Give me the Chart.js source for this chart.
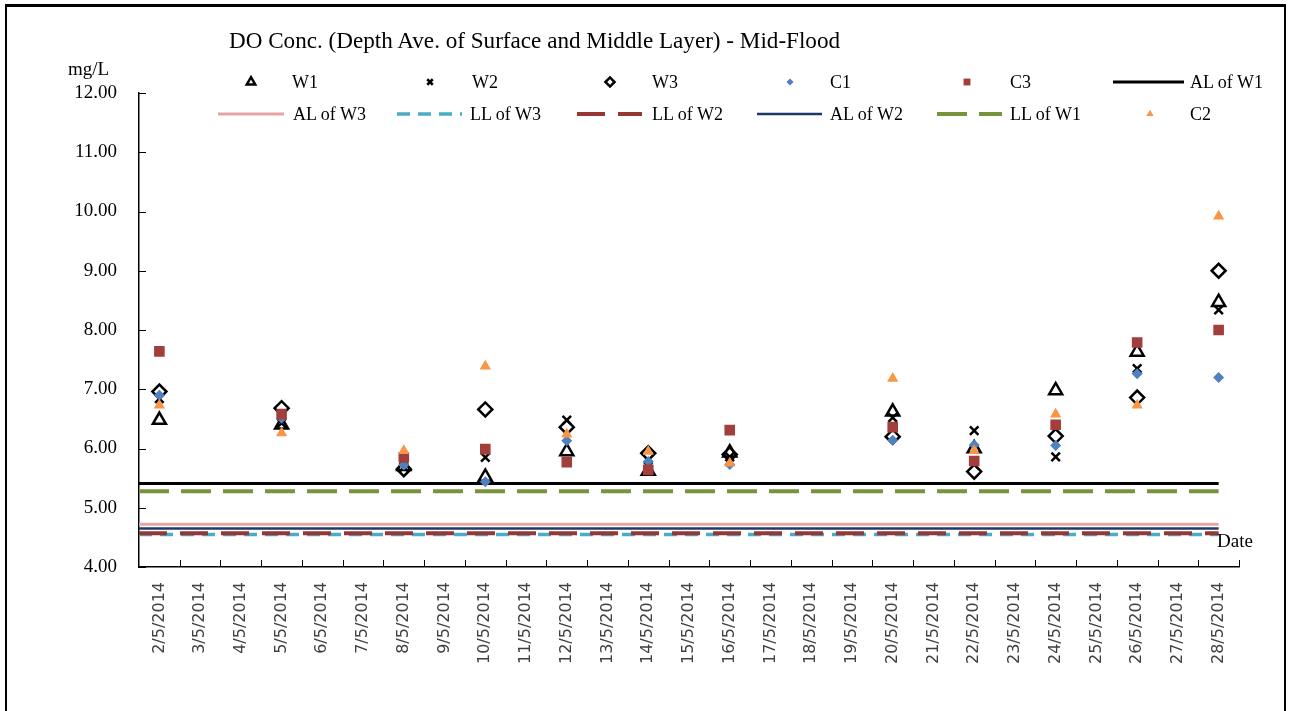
<!DOCTYPE html>
<html>
<head>
<meta charset="utf-8">
<script src="https://cdn.jsdelivr.net/npm/chart.js@4/dist/chart.umd.min.js"></script>
<style>
  html, body { margin: 0; padding: 0; background: #fff; }
  #wrap { position: relative; width: 1290px; height: 711px; overflow: hidden; background: #fff; }
  #c { position: absolute; left: 0; top: 0; }
  .frame { position: absolute; left: 5px; top: 4px; width: 1277px; height: 730px;
           border-top: 3px solid #000; border-left: 2px solid #000; border-right: 2px solid #000; }
  .txt { position: absolute; font-family: "Liberation Serif", "Times New Roman", serif; color: #000;
         white-space: nowrap; line-height: 1; }
  .lg { position: absolute; font-family: "Liberation Serif", "Times New Roman", serif; font-size: 18px;
        color: #000; white-space: nowrap; line-height: 1; }
  .sw { position: absolute; }
</style>
</head>
<body>
<div id="wrap">
  <canvas id="c" width="1290" height="711"></canvas>
  <div class="frame"></div>
  <div class="txt" id="title" style="left:229px;top:28px;font-size:24px;transform-origin:0 0;">DO Conc. (Depth Ave. of Surface and Middle Layer) - Mid-Flood</div>
  <div class="txt" style="left:68px;top:59px;font-size:19px;">mg/L</div>
  <div class="txt" style="left:1217px;top:531px;font-size:19px;">Date</div>
  <div id="legend"></div>
</div>
<script>
// Every calendar day on the category axis
const dates = [
  '2/5/2014', '3/5/2014', '4/5/2014', '5/5/2014', '6/5/2014', '7/5/2014', '8/5/2014',
  '9/5/2014', '10/5/2014', '11/5/2014', '12/5/2014', '13/5/2014', '14/5/2014', '15/5/2014',
  '16/5/2014', '17/5/2014', '18/5/2014', '19/5/2014', '20/5/2014', '21/5/2014', '22/5/2014',
  '23/5/2014', '24/5/2014', '25/5/2014', '26/5/2014', '27/5/2014', '28/5/2014'
];

// Days on which samples were taken
const sampleDates = [
  '2/5/2014', '5/5/2014', '8/5/2014', '10/5/2014', '12/5/2014', '14/5/2014',
  '16/5/2014', '20/5/2014', '22/5/2014', '24/5/2014', '26/5/2014', '28/5/2014'
];

// DO (mg/L), depth average of surface and middle layer, mid-flood
const W1 = [6.48, 6.40, 5.70, 5.52, 5.95, 5.62, 5.93, 6.62, 6.00, 6.98, 7.63, 8.47];
const W2 = [6.84, 6.43, 5.68, 5.85, 6.48, 5.70, 5.86, 6.52, 6.30, 5.86, 7.35, 8.34];
const W3 = [6.96, 6.68, 5.65, 6.66, 6.36, 5.92, 5.90, 6.20, 5.61, 6.21, 6.86, 9.00];
const C1 = [6.90, 6.51, 5.72, 5.44, 6.13, 5.78, 5.73, 6.14, 6.06, 6.05, 7.26, 7.20];
const C3 = [7.64, 6.58, 5.85, 5.99, 5.77, 5.64, 6.31, 6.36, 5.79, 6.40, 7.79, 8.00];
const C2 = [6.73, 6.26, 5.96, 7.39, 6.24, 5.95, 5.75, 7.18, 5.96, 6.58, 6.73, 9.92];

// Action (AL) and limit (LL) levels
const AL_W1 = 5.41;
const LL_W1 = 5.28;
const AL_W3 = 4.72;
const AL_W2 = 4.65;
const LL_W2 = 4.57;
const LL_W3 = 4.55;

// Y axis range
const yMin = 4, yMax = 12, yStep = 1;

// Spread a station's samples over the full date list
function onDates(values) {
  return dates.map(d => {
    const i = sampleDates.indexOf(d);
    return i >= 0 ? values[i] : null;
  });
}

// Horizontal level from the value axis origin to the last date
function level(v) {
  return [{ x: -0.5, y: v }, { x: dates.length - 1, y: v }];
}

function markerSet(label, values, style, opts) {
  return Object.assign({
    label,
    data: onDates(values),
    xAxisID: 'x',
    showLine: false,
    pointStyle: style,
    pointRadius: 6,
    pointHoverRadius: 6,
    pointBorderWidth: 2.5,
    pointBackgroundColor: 'rgba(0,0,0,0)',
    pointBorderColor: '#000',
    borderColor: '#000',
    backgroundColor: 'rgba(0,0,0,0)'
  }, opts);
}

function levelSet(label, v, color, width, dash, order) {
  return {
    label,
    data: level(v),
    xAxisID: 'xl',
    showLine: true,
    borderColor: color,
    backgroundColor: color,
    borderWidth: width,
    borderDash: dash,
    pointRadius: 0,
    pointHoverRadius: 0,
    fill: false,
    order
  };
}

const datasets = [
  markerSet('W1', W1, 'triangle', { pointRadius: 7.5, order: 5 }),
  markerSet('W2', W2, 'crossRot', { pointRadius: 6, order: 4 }),
  markerSet('W3', W3, 'rectRot', { pointRadius: 7, order: 3 }),
  markerSet('C1', C1, 'rectRot', { pointRadius: 5.5, pointBorderWidth: 0, pointBackgroundColor: '#4F81BD', pointBorderColor: '#4F81BD', backgroundColor: '#4F81BD', borderColor: '#4F81BD', order: 2 }),
  markerSet('C3', C3, 'rect', { pointRadius: 7.5, pointBorderWidth: 0, pointBackgroundColor: '#A23E3C', pointBorderColor: '#A23E3C', backgroundColor: '#A23E3C', borderColor: '#A23E3C', order: 1 }),
  levelSet('AL of W1', AL_W1, '#000000', 3, [], 20),
  levelSet('AL of W3', AL_W3, '#E3A6A5', 3, [], 19),
  levelSet('LL of W3', LL_W3, '#4BACC6', 3.5, [13, 8], 18),
  levelSet('LL of W2', LL_W2, '#953735', 4, [28, 13], 17),
  levelSet('AL of W2', AL_W2, '#1F3A64', 2.5, [], 16),
  levelSet('LL of W1', LL_W1, '#77933C', 4, [30, 12], 15),
  markerSet('C2', C2, 'triangle', { pointRadius: 6.5, pointBorderWidth: 0, pointBackgroundColor: '#F79646', pointBorderColor: '#F79646', backgroundColor: '#F79646', borderColor: '#F79646', order: 0 })
];

// Short tick marks pointing into the plot area
const innerTicks = {
  id: 'innerTicks',
  afterDraw(chart) {
    const ctx = chart.ctx;
    const ys = chart.scales.y, xs = chart.scales.x;
    ctx.save();
    ctx.strokeStyle = '#000';
    ctx.lineWidth = 1;
    ctx.beginPath();
    ys.ticks.forEach((t, i) => {
      const py = Math.round(ys.getPixelForTick(i)) + 0.5;
      ctx.moveTo(ys.right, py);
      ctx.lineTo(ys.right + 7, py);
    });
    for (let k = 1; k <= xs.ticks.length; k++) {
      const px = Math.round(xs.getPixelForValue(k - 0.5)) + 0.5;
      ctx.moveTo(px, xs.top);
      ctx.lineTo(px, xs.top - 7);
    }
    ctx.stroke();
    ctx.restore();
  }
};

const chart = new Chart(document.getElementById('c'), {
  type: 'line',
  data: { labels: dates, datasets },
  options: {
    responsive: false,
    animation: false,
    events: [],
    layout: { padding: { left: 0, top: 93, right: 51, bottom: 0 } },
    plugins: { legend: { display: false }, title: { display: false }, tooltip: { enabled: false } },
    scales: {
      x: {
        type: 'category',
        position: 'bottom',
        offset: true,
        grid: { display: true, offset: true, drawOnChartArea: false, drawTicks: false },
        border: { display: true, color: '#000', width: 1.5 },
        ticks: {
          autoSkip: false, maxRotation: 90, minRotation: 90, padding: 15,
          color: '#404040',
          font: { family: '"DejaVu Sans", Verdana, sans-serif', size: 16 }
        },
        afterFit(s) { s.height = 144; }
      },
      xl: {
        type: 'linear',
        position: 'bottom',
        display: false,
        min: -0.5,
        max: dates.length - 0.5
      },
      y: {
        type: 'linear',
        min: yMin, max: yMax,
        grid: { display: true, drawOnChartArea: false, drawTicks: false },
        border: { display: true, color: '#000', width: 1.5 },
        ticks: {
          stepSize: yStep, padding: 22, color: '#000',
          font: { family: '"Liberation Serif", "Times New Roman", serif', size: 19 },
          callback: v => Number(v).toFixed(2)
        },
        afterFit(s) { s.width = 139; }
      }
    }
  },
  plugins: [innerTicks]
});

// Fit the title to its line width
(function () {
  const t = document.getElementById('title');
  const w = t.offsetWidth;
  if (w > 0) t.style.transform = 'scaleX(' + (611 / w) + ')';
})();

// Legend laid out in two rows of six slots
const legendSlots = [
  { label: 'W1', row: 0, mx: 251, tx: 292 },
  { label: 'W2', row: 0, mx: 430, tx: 472 },
  { label: 'W3', row: 0, mx: 610, tx: 652 },
  { label: 'C1', row: 0, mx: 790, tx: 830 },
  { label: 'C3', row: 0, mx: 967, tx: 1010 },
  { label: 'AL of W1', row: 0, lx: [1113, 1184], tx: 1190 },
  { label: 'AL of W3', row: 1, lx: [218, 284], tx: 293 },
  { label: 'LL of W3', row: 1, lx: [397, 462], tx: 470 },
  { label: 'LL of W2', row: 1, lx: [577, 642], tx: 652 },
  { label: 'AL of W2', row: 1, lx: [757, 822], tx: 830 },
  { label: 'LL of W1', row: 1, lx: [937, 1002], tx: 1010 },
  { label: 'C2', row: 1, mx: 1150, tx: 1190 }
];
const rowY = [82, 114];
const legend = document.getElementById('legend');

legendSlots.forEach(slot => {
  const ds = chart.data.datasets.find(d => d.label === slot.label);
  const cy = rowY[slot.row];
  const cv = document.createElement('canvas');
  cv.className = 'sw';
  if (slot.mx !== undefined) {
    cv.width = 24; cv.height = 24;
    cv.style.left = (slot.mx - 12) + 'px';
    cv.style.top = (cy - 12) + 'px';
    const ctx = cv.getContext('2d');
    ctx.fillStyle = ds.pointBackgroundColor;
    ctx.strokeStyle = ds.pointBorderColor;
    ctx.lineWidth = ds.pointBorderWidth;
    const r = Math.max(3, ds.pointRadius * 0.65);
    if (Chart.helpers && Chart.helpers.drawPoint) {
      Chart.helpers.drawPoint(ctx, { pointStyle: ds.pointStyle, radius: r, borderWidth: ds.pointBorderWidth, rotation: 0 }, 12, 12);
    }
  } else {
    const w = slot.lx[1] - slot.lx[0];
    cv.width = w; cv.height = 10;
    cv.style.left = slot.lx[0] + 'px';
    cv.style.top = (cy - 5) + 'px';
    const ctx = cv.getContext('2d');
    ctx.strokeStyle = ds.borderColor;
    ctx.lineWidth = ds.borderWidth;
    ctx.setLineDash(ds.borderDash || []);
    ctx.beginPath();
    ctx.moveTo(0, 5);
    ctx.lineTo(w, 5);
    ctx.stroke();
  }
  legend.appendChild(cv);
  const tx = document.createElement('div');
  tx.className = 'lg';
  tx.textContent = slot.label;
  tx.style.left = slot.tx + 'px';
  tx.style.top = (cy - 9) + 'px';
  legend.appendChild(tx);
});
</script>
</body>
</html>
